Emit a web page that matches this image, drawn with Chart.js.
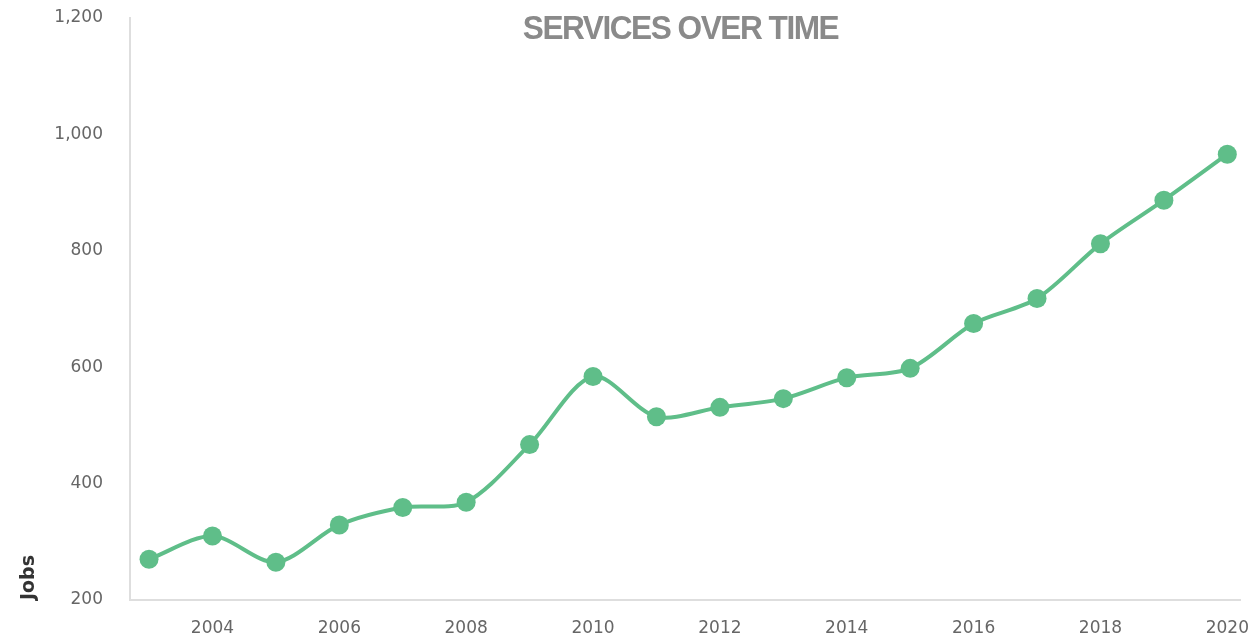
<!DOCTYPE html>
<html>
<head>
<meta charset="utf-8">
<script src="https://cdn.jsdelivr.net/npm/chart.js@4.4.0/dist/chart.umd.min.js"></script>
<style>
  html, body { margin: 0; padding: 0; background: #fff; }
  #wrap { position: relative; width: 1251px; height: 641px; }
  #title {
    position: absolute; left: 0; width: 1251px; top: 8px; padding-left: 109px; box-sizing: border-box;
    text-align: center; font-family: "Liberation Sans Narrow", "Liberation Sans", sans-serif;
    font-weight: bold; font-size: 34px; letter-spacing: -1.6px; color: #8a8a8a;
  }
  #title span { display: inline-block; transform: scaleX(0.93); transform-origin: center; }
</style>
</head>
<body>
<div id="wrap">
  <canvas id="jobsChart" width="1251" height="641"></canvas>
  <div id="title"><span>SERVICES OVER TIME</span></div>
</div>
<script>
// data
var years = [2003, 2004, 2005, 2006, 2007, 2008, 2009, 2010, 2011, 2012, 2013, 2014, 2015, 2016, 2017, 2018, 2019, 2020];
var jobs = [270, 310, 265, 329, 359, 368, 467, 584, 515, 531, 546, 582, 598, 675, 718, 812, 887, 966];
var yearTicks = [2004, 2006, 2008, 2010, 2012, 2014, 2016, 2018, 2020];
var jobTicks = [200, 400, 600, 800, 1000, 1200];

var points = [];
for (var i = 0; i < years.length; i++) {
    points.push({ x: years[i], y: jobs[i] });
}

var green = '#5fbe89';
var ctx = document.getElementById("jobsChart");
var myLineChart = new Chart(ctx, {
    type: 'line',
    data: {
        datasets: [{
            label: 'Jobs',
            data: points,
            borderColor: green,
            backgroundColor: green,
            pointBackgroundColor: green,
            pointBorderWidth: 0,
            pointRadius: 9.5,
            borderWidth: 4,
            tension: 0.3,
            fill: false
        }]
    },
    options: {
        responsive: false,
        animation: false,
        layout: { padding: { top: 18, right: 11, left: 0, bottom: 0 } },
        plugins: {
            legend: { display: false },
            tooltip: { enabled: false }
        },
        scales: {
            x: {
                type: 'linear',
                min: 2002.7,
                max: 2020.2,
                afterBuildTicks: function (scale) {
                    scale.ticks = yearTicks.map(function (v) { return { value: v }; });
                },
                afterFit: function (scale) {
                    scale.height = 41;
                    scale.paddingLeft = 0;
                    scale.paddingRight = 0;
                },
                // invisible tick marks just to space the labels off the axis
                grid: { display: true, drawOnChartArea: false, drawTicks: true, tickLength: 18, color: 'rgba(0,0,0,0)' },
                border: { display: true, color: '#dedede', width: 2 },
                ticks: {
                    padding: 0,
                    color: '#666',
                    font: { family: 'DejaVu Sans', size: 17 },
                    callback: function (v) { return String(v); }
                }
            },
            y: {
                min: 200,
                max: 1200,
                afterBuildTicks: function (scale) {
                    scale.ticks = jobTicks.map(function (v) { return { value: v }; });
                },
                afterFit: function (scale) {
                    scale.width = 130;
                    scale.paddingTop = 0;
                    scale.paddingBottom = 0;
                },
                grid: { display: true, drawOnChartArea: false, drawTicks: true, tickLength: 27, color: 'rgba(0,0,0,0)' },
                border: { display: true, color: '#dedede', width: 2 },
                ticks: {
                    padding: 0,
                    color: '#666',
                    font: { family: 'DejaVu Sans', size: 17 },
                    callback: function (v) { return v.toLocaleString('en-US'); }
                },
                title: {
                    display: true,
                    text: 'Jobs',
                    align: 'start',
                    color: '#333',
                    padding: { top: 18, bottom: 0 },
                    font: { family: 'DejaVu Sans', size: 19, weight: 'bold' }
                }
            }
        }
    }
});
</script>
</body>
</html>
